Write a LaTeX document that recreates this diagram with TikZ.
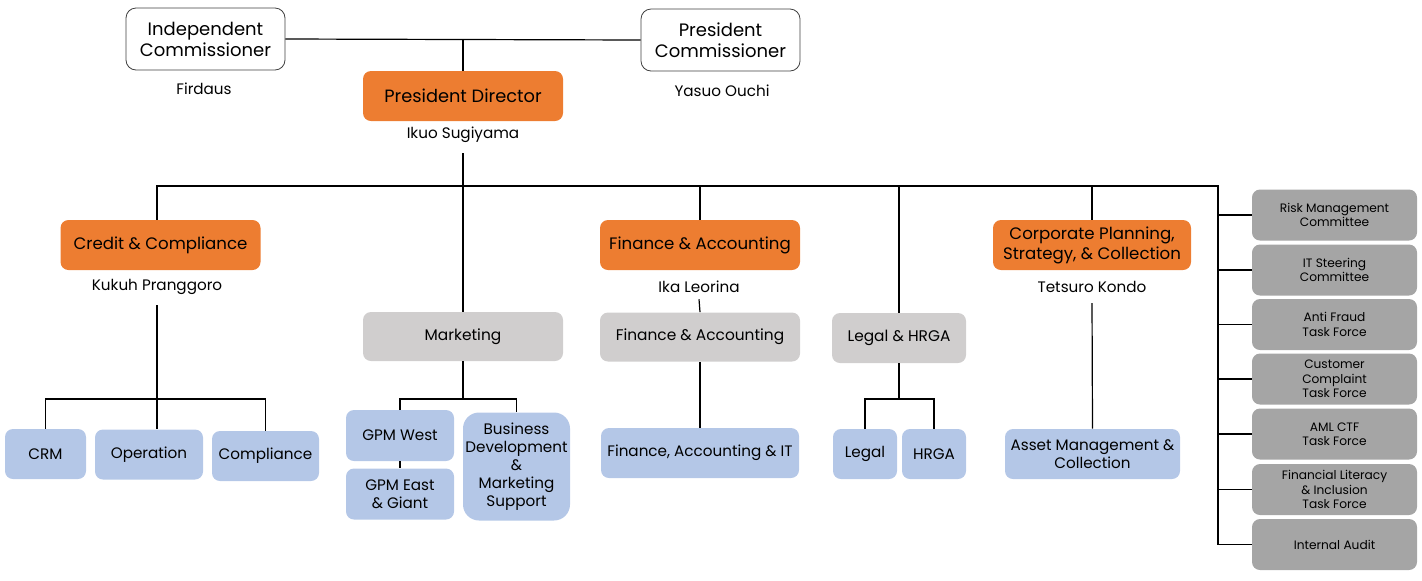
\documentclass[tikz,border=0pt]{standalone}
\usepackage{fontspec}
\setmainfont{Poppins}
\definecolor{orangebox}{HTML}{ED7D31}
\definecolor{greybox}{HTML}{D0CECE}
\definecolor{bluebox}{HTML}{B4C7E7}
\definecolor{darkbox}{HTML}{A5A5A5}

\begin{document}
\begin{tikzpicture}[x=0.5pt, y=-0.5pt,
	commbox/.style={draw=black!75, fill=white, rounded corners=5pt, align=center, inner sep=0pt, minimum width=79.5pt, minimum height=31pt, font=\fontsize{9}{10.5}\selectfont},
	headbox/.style={fill=orangebox, rounded corners=4pt, align=center, inner sep=0pt, minimum width=100pt, minimum height=25pt, font=\fontsize{8.3}{10}\selectfont},
	unitbox/.style={fill=greybox, rounded corners=4pt, align=center, inner sep=0pt, minimum width=100pt, minimum height=24.5pt, font=\fontsize{7.7}{9}\selectfont},
	subbox/.style={fill=bluebox, rounded corners=4pt, align=center, inner sep=0pt, minimum height=25pt, font=\fontsize{7.6}{9}\selectfont},
	taskbox/.style={fill=darkbox, rounded corners=4pt, align=center, inner sep=0pt, minimum width=82.5pt, minimum height=25.5pt, font=\fontsize{6.1}{7.2}\selectfont},
	persname/.style={font=\fontsize{7.6}{9}\selectfont, inner sep=1pt},
	conn/.style={draw=black, line width=0.6pt}]
	\useasboundingbox (0,0) rectangle (1422,580);

	\node[commbox] (indcom) at (205.5,39) {Independent\\Commissioner};
	\node[commbox] (prescom) at (720.5,40) {President\\Commissioner};
	\node[persname] (firdaus) at (204,89) {Firdaus};
	\node[persname] (ouchi) at (722,91) {Yasuo Ouchi};
	\node[headbox, font=\fontsize{8.9}{10}\selectfont] (presdir) at (463,96) {President Director};
	\node[persname] (sugiyama) at (463,135) {Ikuo Sugiyama};

	\node[headbox] (credit) at (160.5,245) {Credit \& Compliance};
	\node[headbox] (finance) at (700,245) {Finance \& Accounting};
	\node[headbox, minimum width=99pt] (corp) at (1092,245) {Corporate Planning,\\Strategy, \& Collection};
	\node[persname] (kukuh) at (157,287) {Kukuh Pranggoro};
	\node[persname] (ika) at (699,287) {Ika Leorina};
	\node[persname] (tetsuro) at (1092,287) {Tetsuro Kondo};

	\node[unitbox] (marketing) at (463,336.5) {Marketing};
	\node[unitbox] (finunit) at (700,337) {Finance \& Accounting};
	\node[unitbox, minimum width=67pt, minimum height=25pt] (legalhrga) at (899,338) {Legal \& HRGA};

	\node[subbox, minimum width=40.5pt] (crm) at (45.5,454) {CRM};
	\node[subbox, minimum width=54pt] (operation) at (149,454.5) {Operation};
	\node[subbox, minimum width=53.5pt] (compliance) at (265.5,456) {Compliance};
	\node[subbox, minimum width=54pt, minimum height=25.5pt] (gpmwest) at (400,435.5) {GPM West};
	\node[subbox, minimum width=54pt, minimum height=25.5pt] (gpmeast) at (400,494) {GPM East\\\& Giant};
	\node[subbox, minimum width=53.5pt, minimum height=54pt, rounded corners=8pt] (bizdev) at (516.5,466.5) {Business\\Development\\\&\\Marketing\\Support};
	\node[subbox, minimum width=99pt] (finit) at (700,453) {Finance, Accounting \& IT};
	\node[subbox, minimum width=32pt] (legal) at (865,454) {Legal};
	\node[subbox, minimum width=32pt] (hrga) at (934,454) {HRGA};
	\node[subbox, minimum width=87.5pt] (asset) at (1092.5,454) {Asset Management \&\\Collection};

	\node[taskbox] (risk) at (1334.5,215) {Risk Management\\Committee};
	\node[taskbox] (itsteer) at (1334.5,270) {IT Steering\\Committee};
	\node[taskbox] (fraud) at (1334.5,324.5) {Anti Fraud\\Task Force};
	\node[taskbox] (complaint) at (1334.5,379) {Customer\\Complaint\\Task Force};
	\node[taskbox] (amlctf) at (1334.5,434) {AML CTF\\Task Force};
	\node[taskbox] (literacy) at (1334.5,489.5) {Financial Literacy\\\& Inclusion\\Task Force};
	\node[taskbox] (audit) at (1334.5,544.5) {Internal Audit};

	\coordinate (busleft) at (157,186);
	\coordinate (busright) at (1218,186);
	\coordinate (forkA) at (157,399);
	\coordinate (forkB) at (463,399);
	\coordinate (forkC) at (901,399);

	\draw[conn] (indcom.east) -- (prescom.west);
	\draw[conn] (presdir.north) -- (presdir.north |- indcom.east);
	\draw[conn] ([yshift=-4pt]sugiyama.south) -- (sugiyama.south |- busleft);
	\draw[conn] (credit.north -| busleft) -- (busleft) -- (busright) -- (busright |- audit.west) -- (audit.west);
	\draw[conn] (marketing.north) -- (marketing.north |- busleft);
	\draw[conn] (finance.north) -- (finance.north |- busleft);
	\draw[conn] (legalhrga.north) -- (legalhrga.north |- busleft);
	\draw[conn] (corp.north) -- (corp.north |- busleft);

	\draw[conn] (risk.west) -- (risk.west -| busright);
	\draw[conn] (itsteer.west) -- (itsteer.west -| busright);
	\draw[conn] (fraud.west) -- (fraud.west -| busright);
	\draw[conn] (complaint.west) -- (complaint.west -| busright);
	\draw[conn] (amlctf.west) -- (amlctf.west -| busright);
	\draw[conn] (literacy.west) -- (literacy.west -| busright);

	\draw[conn] ([yshift=-4pt]kukuh.south) -- (kukuh.south |- operation.north);
	\draw[conn] (crm.north) -- (crm.north |- forkA) -| (compliance.north);

	\draw[conn] (marketing.south) -- (forkB);
	\draw[conn] (gpmwest.north) -- (gpmwest.north |- forkB) -| (bizdev.north);
	\draw[conn] (gpmwest.south) -- (gpmeast.north);

	\draw[conn] ([yshift=-2pt]ika.south) -- (finunit.north);
	\draw[conn] (finunit.south) -- (finit.north);

	\draw[conn] (legalhrga.south) -- (legalhrga.south |- forkC);
	\draw[conn] (legal.north) -- (legal.north |- forkC) -| (hrga.north);

	\draw[conn] ([yshift=-4pt]tetsuro.south) -- (asset.north);
\end{tikzpicture}
\end{document}
